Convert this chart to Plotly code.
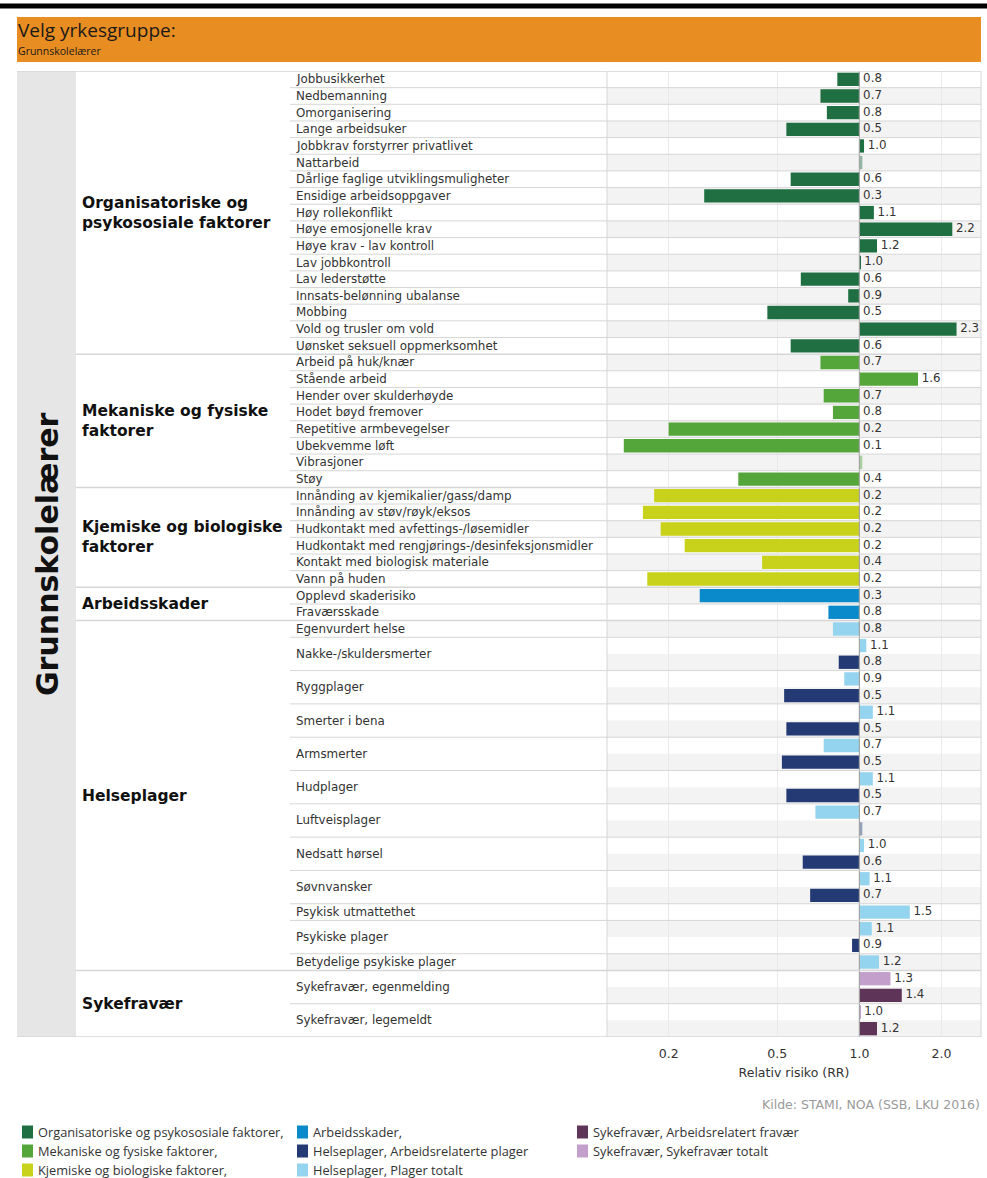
import math
import plotly.graph_objects as go

W, H = 987, 1178

# ---- data -------------------------------------------------------------
NA = float("nan")  # row shown, but no estimate

org_items = ["Jobbusikkerhet", "Nedbemanning", "Omorganisering", "Lange arbeidsuker",
             "Jobbkrav forstyrrer privatlivet", "Nattarbeid",
             "Dårlige faglige utviklingsmuligheter", "Ensidige arbeidsoppgaver",
             "Høy rollekonflikt", "Høye emosjonelle krav", "Høye krav - lav kontroll",
             "Lav jobbkontroll", "Lav lederstøtte", "Innsats-belønning ubalanse",
             "Mobbing", "Vold og trusler om vold", "Uønsket seksuell oppmerksomhet"]
org_rr = [0.83, 0.72, 0.76, 0.54, 1.04, NA, 0.56, 0.27, 1.13, 2.19, 1.16,
          1.01, 0.61, 0.91, 0.46, 2.27, 0.56]

mek_items = ["Arbeid på huk/knær", "Stående arbeid", "Hender over skulderhøyde",
             "Hodet bøyd fremover", "Repetitive armbevegelser", "Ubekvemme løft",
             "Vibrasjoner", "Støy"]
mek_rr = [0.72, 1.64, 0.74, 0.80, 0.20, 0.137, NA, 0.36]

kjem_items = ["Innånding av kjemikalier/gass/damp", "Innånding av støv/røyk/eksos",
              "Hudkontakt med avfettings-/løsemidler",
              "Hudkontakt med rengjørings-/desinfeksjonsmidler",
              "Kontakt med biologisk materiale", "Vann på huden"]
kjem_rr = [0.177, 0.161, 0.187, 0.229, 0.44, 0.167]

skade_items = ["Opplevd skaderisiko", "Fraværsskade"]
skade_rr = [0.26, 0.77]

helse_items = ["Egenvurdert helse", "Nakke-/skuldersmerter", "Ryggplager",
               "Smerter i bena", "Armsmerter", "Hudplager", "Luftveisplager",
               "Nedsatt hørsel", "Søvnvansker", "Psykisk utmattethet",
               "Psykiske plager", "Betydelige psykiske plager"]
helse_totalt = [0.80, 1.06, 0.88, 1.12, 0.74, 1.12, 0.69, 1.04, 1.09, 1.53, 1.11, 1.18]
helse_arb = [None, 0.84, 0.53, 0.54, 0.52, 0.54, NA, 0.62, 0.66, None, 0.94, None]

syk_items = ["Sykefravær, egenmelding", "Sykefravær, legemeldt"]
syk_totalt = [1.30, 1.01]
syk_arb = [1.43, 1.16]

series_names = ["Organisatoriske og psykososiale faktorer,", "Mekaniske og fysiske faktorer,",
                "Kjemiske og biologiske faktorer,", "Arbeidsskader,",
                "Helseplager, Arbeidsrelaterte plager", "Helseplager, Plager totalt",
                "Sykefravær, Arbeidsrelatert fravær", "Sykefravær, Sykefravær totalt"]
series_colors = ["#1F6F42", "#55A63A", "#C8D21A", "#0A89CB",
                 "#233A74", "#95D4EF", "#5E3558", "#C3A0CB"]

sections = [
    ("Organisatoriske og<br>psykososiale faktorer", org_items, [org_rr], [0]),
    ("Mekaniske og fysiske<br>faktorer", mek_items, [mek_rr], [1]),
    ("Kjemiske og biologiske<br>faktorer", kjem_items, [kjem_rr], [2]),
    ("Arbeidsskader", skade_items, [skade_rr], [3]),
    ("Helseplager", helse_items, [helse_totalt, helse_arb], [5, 4]),
    ("Sykefravær", syk_items, [syk_totalt, syk_arb], [7, 6]),
]

tick_vals = [0.2, 0.5, 1.0, 2.0]
tick_text = ["0.2", "0.5", "1.0", "2.0"]


def fx(px):
    return px / W


def fy(py):
    return 1 - py / H


# ---- build rows ---------------------------------------------------------
bars = {i: [] for i in range(len(series_names))}
item_labels, item_edges, sec_spans = [], [], []
row = 0
for sec_label, items, vals_list, idx_list in sections:
    start = row
    for k, item in enumerate(items):
        first = row
        for vals, si in zip(vals_list, idx_list):
            v = vals[k]
            if v is None:
                continue
            bars[si].append((row, v))
            row += 1
        item_labels.append((item, (first + row - 1) / 2))
        item_edges.append(row - 0.5)
    sec_spans.append((sec_label, start, row - 1))
n_rows = row

fig = go.Figure()

txt_x, txt_y, txt = [], [], []
for si, entries in bars.items():
    real = [(r, v) for r, v in entries if not math.isnan(v)]
    miss = [r for r, v in entries if math.isnan(v)]
    if real:
        fig.add_trace(go.Bar(
            orientation="h",
            y=[r for r, v in real],
            x=[v - 1 for r, v in real],
            base=1,
            width=0.8,
            marker=dict(color=series_colors[si], line=dict(width=0)),
            name=series_names[si],
            showlegend=False,
        ))
    if miss:
        fig.add_trace(go.Bar(
            orientation="h", y=miss, x=[0.025] * len(miss), base=1, width=0.8,
            marker=dict(color=series_colors[si], line=dict(width=0)), opacity=0.45,
            showlegend=False, hoverinfo="skip",
        ))
    for r, v in real:
        txt_x.append(max(v, 1.0))
        txt_y.append(r)
        txt.append("\u00a0{:.1f}".format(v))

# reference line at RR = 1
fig.add_trace(go.Scatter(
    x=[1, 1], y=[-0.5, n_rows - 0.5], mode="lines",
    line=dict(color="#A3A3A3", width=1.2), showlegend=False, hoverinfo="skip",
))

fig.add_trace(go.Scatter(
    x=txt_x, y=txt_y, text=txt, mode="text", textposition="middle right",
    textfont=dict(family="DejaVu Sans", size=11.8, color="#333333"),
    showlegend=False, hoverinfo="skip", cliponaxis=False,
))

# ---- shapes -------------------------------------------------------------
shapes = []
grid_c = "#D6D6D6"
shapes.append(dict(type="rect", xref="paper", yref="paper", x0=0, x1=1,
                   y0=fy(8.5), y1=fy(3.5), fillcolor="#000000", line_width=0))
shapes.append(dict(type="rect", xref="paper", yref="paper", x0=fx(17), x1=fx(981),
                   y0=fy(62), y1=fy(17), fillcolor="#E88D21", line_width=0))
shapes.append(dict(type="rect", xref="paper", yref="paper", x0=fx(17), x1=fx(76),
                   y0=fy(1037), y1=fy(71), fillcolor="#E6E6E6", line_width=0))
for r in range(1, n_rows, 2):
    shapes.append(dict(type="rect", xref="paper", yref="y", x0=fx(607), x1=fx(981),
                       y0=r - 0.5, y1=r + 0.5, fillcolor="#F3F3F3", line_width=0,
                       layer="below"))
sec_ends = {e + 0.5 for _, _, e in sec_spans}
for e in item_edges:
    if e in sec_ends:
        continue
    shapes.append(dict(type="line", xref="paper", yref="y", x0=fx(290), x1=fx(981),
                       y0=e, y1=e, line=dict(color=grid_c, width=1)))
for e in sorted(sec_ends)[:-1]:
    shapes.append(dict(type="line", xref="paper", yref="y", x0=fx(76), x1=fx(981),
                       y0=e, y1=e, line=dict(color=grid_c, width=1.5)))
for e in (-0.5, n_rows - 0.5):
    shapes.append(dict(type="line", xref="paper", yref="y", x0=fx(17), x1=fx(981),
                       y0=e, y1=e, line=dict(color=grid_c, width=1.5)))
for xv in (607, 981):
    shapes.append(dict(type="line", xref="paper", yref="y", x0=fx(xv), x1=fx(xv),
                       y0=-0.5, y1=n_rows - 0.5, line=dict(color=grid_c, width=1)))

# ---- annotations --------------------------------------------------------
ann = []
head = "Open Sans, sans-serif"
ann.append(dict(text="Velg yrkesgruppe:", x=fx(16), y=fy(30.5), xref="paper", yref="paper",
                xanchor="left", yanchor="middle", showarrow=False,
                font=dict(family=head, size=19, color="#1A1A1A")))
ann.append(dict(text="Grunnskolelærer", x=fx(16), y=fy(51), xref="paper", yref="paper",
                xanchor="left", yanchor="middle", showarrow=False,
                font=dict(family=head, size=10.5, color="#1A1A1A")))
ann.append(dict(text="<b>Grunnskolelærer</b>", x=fx(47), y=fy(554), xref="paper",
                yref="paper", textangle=-90, xanchor="center", yanchor="middle",
                showarrow=False,
                font=dict(family="DejaVu Sans", size=30, color="#111111")))
for lab, s, e in sec_spans:
    ann.append(dict(text="<b>%s</b>" % lab, x=fx(80), y=(s + e) / 2, xref="paper", yref="y",
                    xanchor="left", yanchor="middle", align="left", showarrow=False,
                    font=dict(family="DejaVu Sans", size=15.5, color="#111111")))
for lab, yc in item_labels:
    ann.append(dict(text=lab, x=fx(294), y=yc, xref="paper", yref="y",
                    xanchor="left", yanchor="middle", showarrow=False,
                    font=dict(family="DejaVu Sans", size=11.9, color="#333333")))
ann.append(dict(text="Kilde: STAMI, NOA (SSB, LKU 2016)", x=fx(982), y=fy(1104),
                xref="paper", yref="paper", xanchor="right", yanchor="middle",
                showarrow=False, font=dict(family="DejaVu Sans", size=12.5, color="#9A9A9A")))

# legend (3 rows, column major)
leg_cols = [22, 297, 577]
leg_rows = [1132, 1151, 1170]
for i, (name, col) in enumerate(zip(series_names, series_colors)):
    cx = leg_cols[i // 3]
    cy = leg_rows[i % 3]
    shapes.append(dict(type="rect", xref="paper", yref="paper", x0=fx(cx), x1=fx(cx + 11),
                       y0=fy(cy + 6.5), y1=fy(cy - 6.5), fillcolor=col, line_width=0))
    ann.append(dict(text=name, x=fx(cx + 14), y=fy(cy), xref="paper", yref="paper",
                    xanchor="left", yanchor="middle", showarrow=False,
                    font=dict(family=head, size=12.8, color="#333333")))

fig.update_layout(
    width=W, height=H,
    margin=dict(l=0, r=0, t=0, b=0),
    template="none",
    paper_bgcolor="white",
    plot_bgcolor="rgba(0,0,0,0)",
    font=dict(family="DejaVu Sans", color="#333333"),
    barmode="overlay",
    shapes=shapes,
    annotations=ann,
    showlegend=False,
    xaxis=dict(
        type="log",
        domain=[fx(607), fx(981)],
        range=[math.log10(0.1189), math.log10(2.79)],
        tickvals=tick_vals, ticktext=tick_text,
        ticks="outside", ticklen=5, tickcolor="rgba(0,0,0,0)",
        tickfont=dict(size=12.5, color="#333333"),
        showgrid=True, gridcolor="#EAEAEA", gridwidth=1,
        zeroline=False, showline=False, automargin=False,
        title=dict(text="Relativ risiko (RR)", standoff=8,
                   font=dict(size=12.5, color="#333333")),
        fixedrange=True,
    ),
    yaxis=dict(
        domain=[fy(1037), fy(71)],
        range=[n_rows - 0.5, -0.5],
        showticklabels=False, showgrid=False, zeroline=False, showline=False,
        ticks="", automargin=False, fixedrange=True,
    ),
)

fig.write_html("out.html", config={"displayModeBar": False},
               post_script="document.body.style.margin='0px';")
